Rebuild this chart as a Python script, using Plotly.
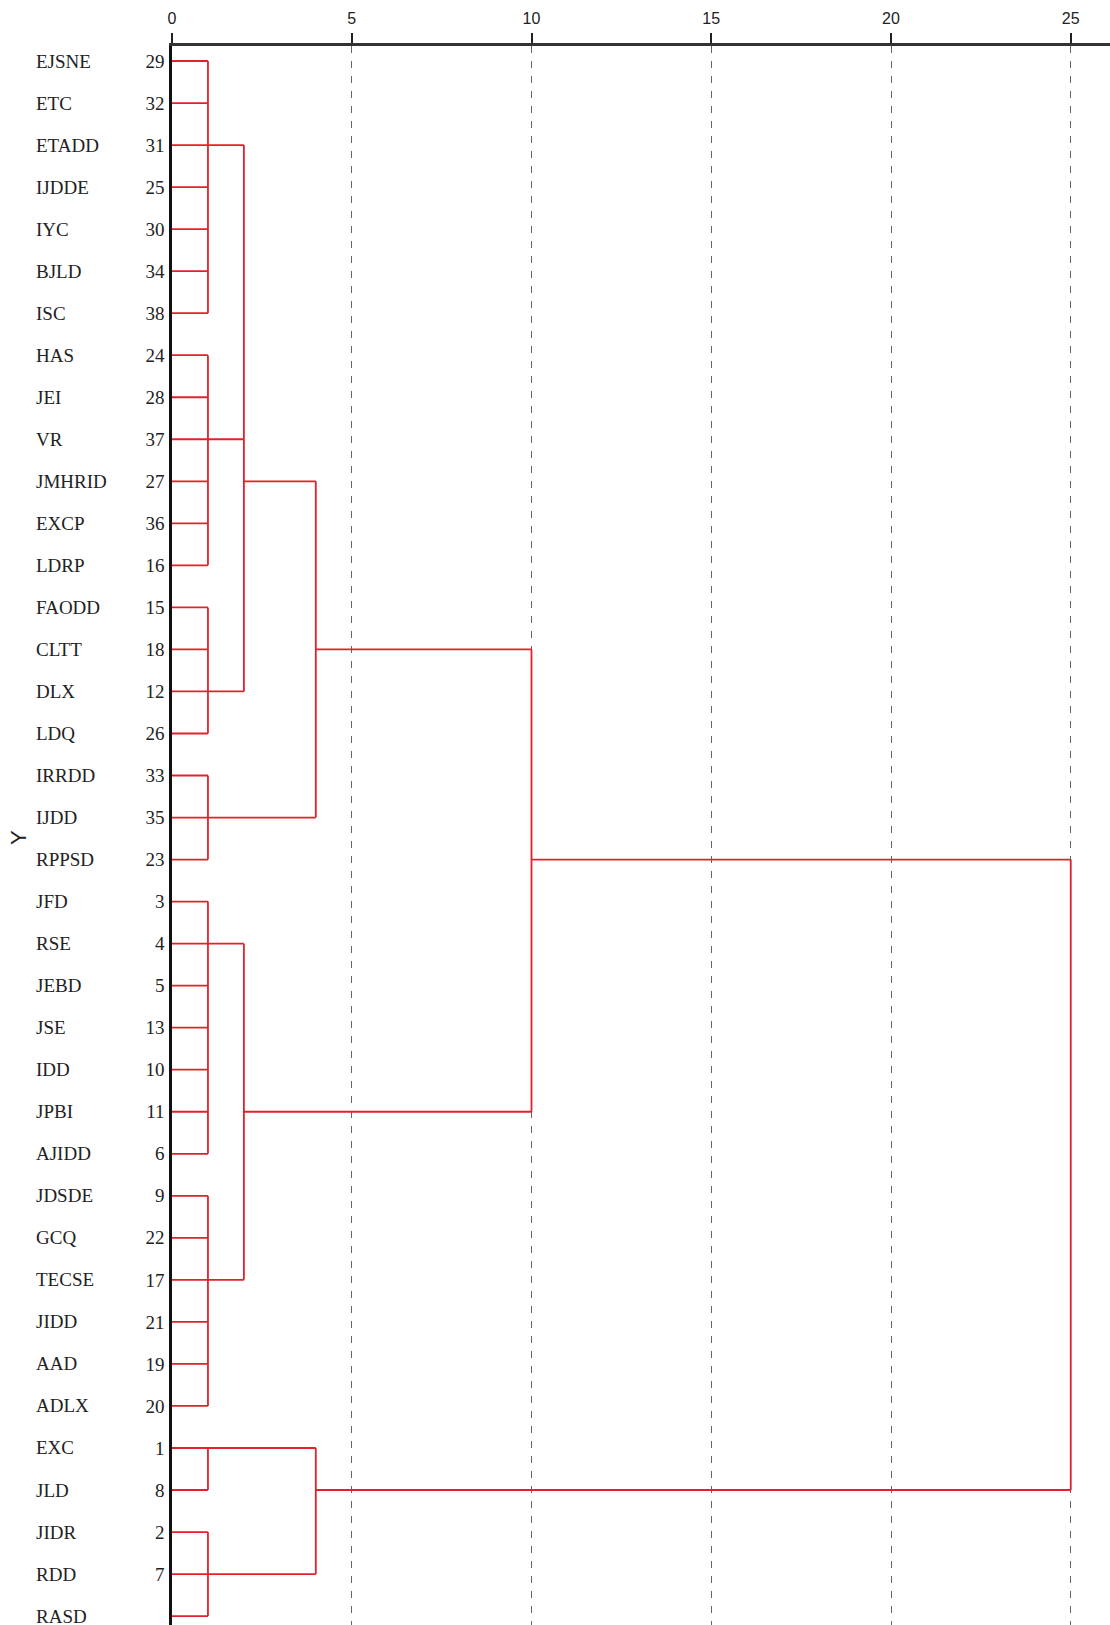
import plotly.graph_objects as go

# Leaf labels in dendrogram order (top to bottom) and their case numbers
leaf_names = ["EJSNE", "ETC", "ETADD", "IJDDE", "IYC", "BJLD", "ISC", "HAS", "JEI", "VR",
              "JMHRID", "EXCP", "LDRP", "FAODD", "CLTT", "DLX", "LDQ", "IRRDD", "IJDD", "RPPSD",
              "JFD", "RSE", "JEBD", "JSE", "IDD", "JPBI", "AJIDD", "JDSDE", "GCQ", "TECSE",
              "JIDD", "AAD", "ADLX", "EXC", "JLD", "JIDR", "RDD", "RASD"]
leaf_ids = [29, 32, 31, 25, 30, 34, 38, 24, 28, 37,
            27, 36, 16, 15, 18, 12, 26, 33, 35, 23,
            3, 4, 5, 13, 10, 11, 6, 9, 22, 17,
            21, 19, 20, 1, 8, 2, 7, 14]

# Agglomeration steps: children (case numbers or cluster keys), rescaled distance,
# and the case whose row carries the cluster's link to its parent
cluster_keys = ["A", "B", "C", "D", "E", "F", "G", "H", "ABC", "ABCD", "EF", "ABCDEF", "GH", "ALL"]
cluster_children = [
    [29, 32, 31, 25, 30, 34, 38],
    [24, 28, 37, 27, 36, 16],
    [15, 18, 12, 26],
    [33, 35, 23],
    [3, 4, 5, 13, 10, 11, 6],
    [9, 22, 17, 21, 19, 20],
    [1, 8],
    [2, 7, 14],
    ["A", "B", "C"],
    ["ABC", "D"],
    ["E", "F"],
    ["ABCD", "EF"],
    ["G", "H"],
    ["ABCDEF", "GH"],
]
cluster_heights = [1, 1, 1, 1, 1, 1, 1, 1, 2, 4, 2, 10, 4, 25]
cluster_anchor = [31, 37, 12, 35, 4, 17, 1, 7, 27, 18, 11, 23, 8, None]

x_ticks = [0, 5, 10, 15, 20, 25]

# ---- build dendrogram segments ----
row_of = {cid: i for i, cid in enumerate(leaf_ids)}
for key, anchor in zip(cluster_keys, cluster_anchor):
    if anchor is not None:
        row_of[key] = row_of[anchor]
parent_height = {}
for key, kids, h in zip(cluster_keys, cluster_children, cluster_heights):
    for k in kids:
        parent_height[k] = h

xs, ys = [], []
def seg(x0, y0, x1, y1):
    xs.extend([x0, x1, None])
    ys.extend([y0, y1, None])

for cid in leaf_ids:
    seg(0, row_of[cid], parent_height[cid], row_of[cid])
for key, kids, h in zip(cluster_keys, cluster_children, cluster_heights):
    rows = [row_of[k] for k in kids]
    seg(h, min(rows), h, max(rows))
    if key in parent_height:
        seg(h, row_of[key], parent_height[key], row_of[key])

fig = go.Figure()
fig.add_trace(go.Scatter(
    x=xs, y=ys, mode="lines",
    line=dict(color="#e3202c", width=1.8),
    hoverinfo="skip", showlegend=False,
))

# ---- layout ----
W, H = 1110, 1625
ml, mt = 172, 46
pw = W - ml
ph = H - mt
n = len(leaf_ids)
row_px = 42.03
top_pad = 15 / row_px

fig.update_layout(
    width=W, height=H,
    margin=dict(l=ml, r=0, t=mt, b=0),
    paper_bgcolor="white", plot_bgcolor="white",
    showlegend=False,
    xaxis=dict(
        side="top",
        range=[0, pw / 35.95],
        tickvals=x_ticks,
        ticktext=[str(v) for v in x_ticks],
        ticks="outside", ticklen=10, tickwidth=2, tickcolor="#222",
        ticklabelstandoff=3,
        tickfont=dict(family="Liberation Sans, Arial", size=16, color="#222"),
        showline=True, linecolor="#333", linewidth=2.5,
        showgrid=True, gridcolor="#666", gridwidth=1, griddash="7px,8px",
        zeroline=False,
    ),
    yaxis=dict(
        range=[ph / row_px - top_pad, -top_pad],
        tickvals=list(range(n)),
        ticktext=[str(v) for v in leaf_ids],
        ticks="", ticklabelstandoff=1,
        tickfont=dict(family="Liberation Serif, Times New Roman", size=19, color="#222"),
        showline=True, linecolor="#111", linewidth=2.5,
        showgrid=False, zeroline=False,
    ),
)

for i, name in enumerate(leaf_names):
    fig.add_annotation(
        x=(34 - ml) / pw, xref="paper", xanchor="left",
        y=i, yref="y", yanchor="middle",
        text=name, showarrow=False,
        font=dict(family="Liberation Serif, Times New Roman", size=19, color="#222"),
    )

fig.add_annotation(
    x=(18 - ml) / pw, xref="paper", xanchor="center",
    y=(H - 838) / ph, yref="paper", yanchor="middle",
    text="Y", textangle=-90, showarrow=False,
    font=dict(family="Liberation Sans, Arial", size=22, color="#222"),
)

fig.write_html("out.html")
